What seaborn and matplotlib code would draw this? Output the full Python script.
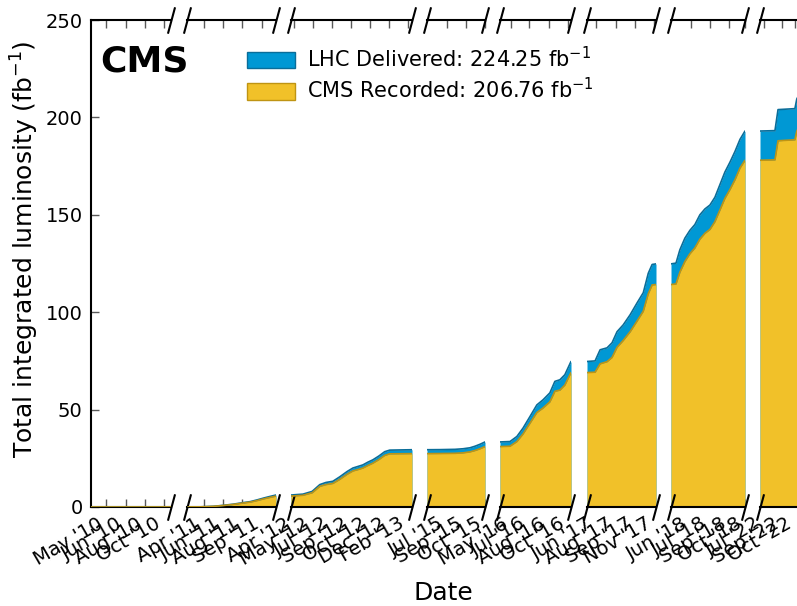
import matplotlib
matplotlib.use("Agg")
import matplotlib.pyplot as plt
import matplotlib.dates as mdates
from matplotlib.patches import Patch
import pandas as pd
import seaborn as sns

# ---- cumulative luminosity per run period (fb^-1) ----
range_2010 = ["2010-03-30", "2010-10-24"]
dates_2010 = ["2010-03-30", "2010-06-15", "2010-08-10", "2010-09-20", "2010-10-24"]
delivered_2010 = [0.0, 0.0002, 0.002, 0.01, 0.047]
recorded_2010 = [0.0, 0.0002, 0.0018, 0.009, 0.043]
ticks_2010 = ["2010-05-08", "2010-06-29", "2010-08-17", "2010-10-06"]

range_2011 = ["2011-03-13", "2011-10-30"]
dates_2011 = ["2011-03-16", "2011-04-16", "2011-05-20", "2011-06-15", "2011-07-11",
              "2011-08-06", "2011-08-24", "2011-09-11", "2011-09-29", "2011-10-15",
              "2011-10-30"]
delivered_2011 = [0.05, 0.08, 0.35, 0.85, 1.45, 2.25, 2.75, 3.65, 4.65, 5.45, 6.15]
recorded_2011 = [0.04, 0.07, 0.31, 0.77, 1.31, 2.04, 2.5, 3.3, 4.22, 4.95, 5.6]
ticks_2011 = ["2011-04-26", "2011-06-15", "2011-08-03", "2011-09-24"]

range_2012 = ["2012-04-05", "2013-02-14"]
dates_2012 = ["2012-04-05", "2012-05-06", "2012-05-30", "2012-06-19", "2012-07-05",
              "2012-07-23", "2012-08-10", "2012-08-29", "2012-09-13", "2012-09-26",
              "2012-10-09", "2012-10-22", "2012-11-04", "2012-11-20", "2012-12-05",
              "2012-12-18", "2013-02-14"]
delivered_2012 = [6.15, 6.6, 8.0, 11.5, 12.6, 13.2, 15.5, 18.2, 20.0, 20.8, 21.6,
                  23.0, 24.2, 26.2, 28.4, 29.2, 29.4]
recorded_2012 = [5.6, 6.0, 7.3, 10.6, 11.5, 12.1, 14.2, 16.8, 18.5, 19.2, 20.0,
                 21.3, 22.5, 24.4, 26.5, 27.3, 27.4]
ticks_2012 = ["2012-04-13", "2012-05-31", "2012-07-21", "2012-09-08", "2012-10-27",
              "2012-12-16", "2013-02-03"]

range_2015 = ["2015-06-03", "2015-11-01"]
dates_2015 = ["2015-06-03", "2015-07-07", "2015-08-15", "2015-09-05", "2015-09-23",
              "2015-10-06", "2015-10-19", "2015-11-01"]
delivered_2015 = [29.4, 29.45, 29.6, 29.9, 30.4, 31.2, 32.2, 33.4]
recorded_2015 = [27.4, 27.45, 27.55, 27.8, 28.3, 29.0, 29.9, 31.0]
ticks_2015 = ["2015-07-25", "2015-09-12", "2015-10-31"]

range_2016 = ["2016-04-22", "2016-10-24"]
dates_2016 = ["2016-04-22", "2016-05-18", "2016-06-05", "2016-06-21", "2016-07-09",
              "2016-07-27", "2016-08-12", "2016-08-30", "2016-09-12", "2016-09-25",
              "2016-10-08", "2016-10-24"]
delivered_2016 = [33.4, 33.6, 36.2, 40.5, 46.4, 52.4, 55.0, 58.6, 64.5, 65.3, 67.9, 74.7]
recorded_2016 = [31.0, 31.2, 33.6, 37.5, 43.0, 48.5, 50.8, 54.0, 59.4, 60.0, 62.6, 69.0]
ticks_2016 = ["2016-05-21", "2016-07-06", "2016-08-27", "2016-10-16"]

range_2017 = ["2017-05-23", "2017-11-18"]
dates_2017 = ["2017-05-23", "2017-06-13", "2017-06-26", "2017-07-14", "2017-07-27",
              "2017-08-09", "2017-08-25", "2017-09-12", "2017-09-30", "2017-10-16",
              "2017-10-29", "2017-11-08", "2017-11-18"]
delivered_2017 = [74.7, 75.0, 80.7, 81.7, 84.3, 90.0, 93.5, 98.7, 104.8, 110.0,
                  120.0, 124.5, 124.8]
recorded_2017 = [69.0, 69.2, 73.5, 74.6, 76.8, 82.0, 85.5, 90.0, 95.5, 100.5,
                 109.5, 114.0, 114.2]
ticks_2017 = ["2017-06-15", "2017-08-06", "2017-09-25", "2017-11-13"]

range_2018 = ["2018-04-17", "2018-10-26"]
dates_2018 = ["2018-04-17", "2018-04-30", "2018-05-10", "2018-05-23", "2018-06-05",
              "2018-06-18", "2018-07-01", "2018-07-14", "2018-07-27", "2018-08-09",
              "2018-08-22", "2018-09-04", "2018-09-17", "2018-09-30", "2018-10-13",
              "2018-10-26"]
delivered_2018 = [124.8, 125.2, 132.0, 138.0, 142.0, 145.0, 150.0, 153.0, 155.0,
                  159.0, 165.5, 172.0, 177.0, 182.5, 188.7, 193.0]
recorded_2018 = [114.2, 114.5, 120.5, 126.0, 130.0, 133.0, 137.5, 140.5, 142.5,
                 146.5, 152.5, 158.5, 163.0, 168.0, 174.0, 178.0]
ticks_2018 = ["2018-06-08", "2018-07-27", "2018-09-15", "2018-10-25"]

range_2022 = ["2022-07-05", "2022-11-28"]
dates_2022 = ["2022-07-05", "2022-08-13", "2022-08-21", "2022-10-04", "2022-10-09",
              "2022-10-30", "2022-11-28"]
delivered_2022 = [193.0, 193.2, 204.0, 204.5, 209.5, 217.0, 224.25]
recorded_2022 = [178.0, 178.2, 188.0, 188.5, 193.0, 200.0, 206.76]
ticks_2022 = ["2022-07-15", "2022-09-01", "2022-10-03"]

total_delivered = 224.25
total_recorded = 206.76
y_ticks = [0, 50, 100, 150, 200, 250]

runs = [
    (range_2010, dates_2010, delivered_2010, recorded_2010, ticks_2010),
    (range_2011, dates_2011, delivered_2011, recorded_2011, ticks_2011),
    (range_2012, dates_2012, delivered_2012, recorded_2012, ticks_2012),
    (range_2015, dates_2015, delivered_2015, recorded_2015, ticks_2015),
    (range_2016, dates_2016, delivered_2016, recorded_2016, ticks_2016),
    (range_2017, dates_2017, delivered_2017, recorded_2017, ticks_2017),
    (range_2018, dates_2018, delivered_2018, recorded_2018, ticks_2018),
    (range_2022, dates_2022, delivered_2022, recorded_2022, ticks_2022),
]

# ---- style ----
sns.set_style("ticks")
plt.rcParams["font.family"] = ["DejaVu Sans"]
plt.rcParams["text.color"] = "black"
plt.rcParams["axes.labelcolor"] = "black"
plt.rcParams["xtick.labelcolor"] = "black"
plt.rcParams["ytick.labelcolor"] = "black"

BLUE = "#0098d4"
BLUE_EDGE = "#0a6d99"
YELLOW = "#f1c129"
YELLOW_EDGE = "#bf9413"

W, H = 797, 606
fig = plt.figure(figsize=(W / 100, H / 100), dpi=100)

# panel boxes in pixels (left, right); all share the same vertical extent
panel_px = [(91, 171), (187, 276), (291, 412), (427, 485), (500, 571),
            (587, 656), (671, 745), (760, 816)]
top_px, bottom_px = 20, 507

break_kw = dict(marker=[(-0.27, -1), (0.27, 1)], markersize=19, linestyle="none",
                color="k", mec="k", mew=1.5, clip_on=False)

axes = []
n = len(runs)
for i, ((xr, dts, dlv, rec, tks), (l, r)) in enumerate(zip(runs, panel_px)):
    ax = fig.add_axes([l / W, 1 - bottom_px / H, (r - l) / W, (bottom_px - top_px) / H])
    axes.append(ax)
    df = pd.DataFrame({"date": pd.to_datetime(dts), "delivered": dlv, "recorded": rec})

    ax.fill_between(df["date"], 0, df["delivered"], color=BLUE, lw=0, zorder=1)
    ax.fill_between(df["date"], 0, df["recorded"], color=YELLOW, lw=0, zorder=2)
    sns.lineplot(data=df, x="date", y="delivered", ax=ax, color=BLUE_EDGE,
                 lw=1.2, estimator=None, zorder=3)
    sns.lineplot(data=df, x="date", y="recorded", ax=ax, color=YELLOW_EDGE,
                 lw=1.2, estimator=None, zorder=4)

    ax.set_xlim(pd.to_datetime(xr[0]), pd.to_datetime(xr[1]))
    ax.set_ylim(0, 250)
    ax.set_xlabel("")
    ax.set_ylabel("")

    ax.set_xticks(pd.to_datetime(tks))
    ax.xaxis.set_major_formatter(mdates.DateFormatter("%b '%y"))
    ax.tick_params(axis="x", which="major", direction="in", top=True, bottom=True,
                   length=6, width=1, color="0.35", labelcolor="black",
                   labelsize=14, pad=5)
    plt.setp(ax.get_xticklabels(), rotation=30, ha="right")

    for side in ("top", "bottom", "left", "right"):
        ax.spines[side].set_linewidth(1.5)
        ax.spines[side].set_color("k")
    ax.spines["right"].set_visible(False)
    if i == 0:
        ax.set_yticks(y_ticks)
        ax.tick_params(axis="y", direction="in", left=True, right=False,
                       length=6, width=1, color="0.35", labelcolor="black",
                       labelsize=14, pad=6)
    else:
        ax.spines["left"].set_visible(False)
        ax.tick_params(axis="y", left=False, right=False, labelleft=False)

    # diagonal break marks
    if i > 0:
        ax.plot([0, 0], [0, 1], transform=ax.transAxes, **break_kw)
    if i < n - 1:
        ax.plot([1, 1], [0, 1], transform=ax.transAxes, **break_kw)

fig.text(25 / W, 1 - 249 / H, "Total integrated luminosity (fb$^{-1}$)",
         rotation=90, ha="center", va="center", fontsize=18, color="black")
fig.text(443 / W, 1 - 593 / H, "Date", ha="center", va="center", fontsize=18,
         color="black")
fig.text(100 / W, 1 - 62 / H, "CMS", ha="left", va="center", fontsize=26,
         fontweight="bold", color="black")

handles = [Patch(facecolor=BLUE, edgecolor=BLUE_EDGE, lw=1),
           Patch(facecolor=YELLOW, edgecolor=YELLOW_EDGE, lw=1)]
labels = [f"LHC Delivered: {total_delivered:.2f} fb$^{{-1}}$",
          f"CMS Recorded: {total_recorded:.2f} fb$^{{-1}}$"]
fig.legend(handles, labels, loc="upper left", bbox_to_anchor=(247 / W, 1 - 46 / H),
           frameon=False, fontsize=15, handlelength=2.3, handleheight=0.85,
           handletextpad=0.6, labelspacing=0.3, borderpad=0, borderaxespad=0,
           labelcolor="black")

fig.savefig("out.png", dpi=100)
